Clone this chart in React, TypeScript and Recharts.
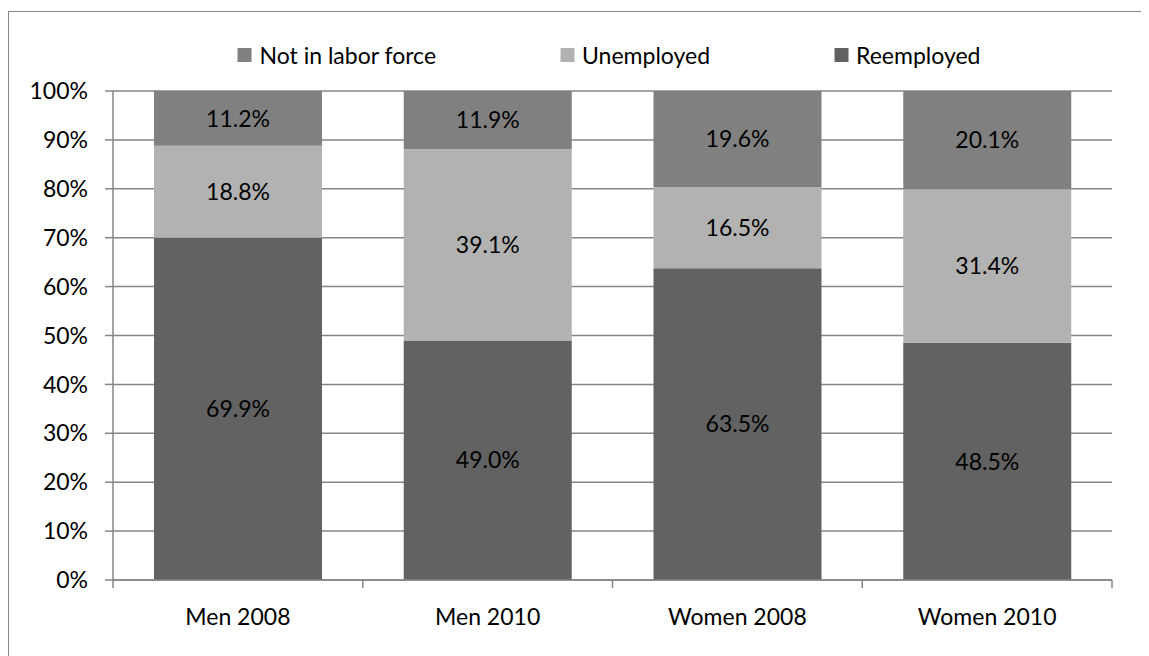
import React from 'react';
import { BarChart, Bar, XAxis, YAxis, CartesianGrid, LabelList } from 'recharts';

const categories = ['Men 2008', 'Men 2010', 'Women 2008', 'Women 2010'];
const reemployed = [69.9, 49.0, 63.5, 48.5];
const unemployed = [18.8, 39.1, 16.5, 31.4];
const notInLaborForce = [11.2, 11.9, 19.6, 20.1];
const yTicks = [0, 0.1, 0.2, 0.3, 0.4, 0.5, 0.6, 0.7, 0.8, 0.9, 1];

const GRID = '#868686';
const FONT = 'Lato, "Open Sans", sans-serif';
const FS = 23;

const legendItems = [
  { name: 'Not in labor force', color: '#808080' },
  { name: 'Unemployed', color: '#b2b2b2' },
  { name: 'Reemployed', color: '#626262' },
];

const data = categories.map((name, i) => ({
  name,
  reemployed: reemployed[i],
  unemployed: unemployed[i],
  notInLaborForce: notInLaborForce[i],
}));

const fmt = (v: any) => `${Number(v).toFixed(1)}%`;
const labelStyle = { fill: '#000', fontSize: FS, fontFamily: FONT };

// category label plus Excel-style tick marks on the category boundaries
const CategoryTick = (props: any) => {
  const { x, y, payload, index, width } = props;
  const band = width / categories.length;
  const left = x - band / 2;
  const right = x + band / 2;
  return (
    <g>
      <line x1={left} x2={left} y1={y} y2={y + 8} stroke={GRID} strokeWidth={1.5} />
      {index === categories.length - 1 && (
        <line x1={right} x2={right} y1={y} y2={y + 8} stroke={GRID} strokeWidth={1.5} />
      )}
      <text x={x} y={y + 29} dy="0.71em" textAnchor="middle" fill="#000" fontSize={FS} fontFamily={FONT}>
        {payload.value}
      </text>
    </g>
  );
};

export default function App() {
  return (
    <div style={{ paddingTop: 3 }}>
      <div
        style={{
          position: 'relative',
          width: 1160,
          height: 660,
          border: `1px solid ${GRID}`,
          fontFamily: FONT,
        }}
      >
        <div
          style={{
            position: 'absolute',
            top: 31,
            left: 600,
            transform: 'translateX(-50%)',
            display: 'flex',
            gap: 124,
            whiteSpace: 'nowrap',
            fontSize: FS,
            lineHeight: '24px',
            color: '#000',
          }}
        >
          {legendItems.map((it) => (
            <div key={it.name} style={{ display: 'flex', alignItems: 'center' }}>
              <span style={{ width: 14, height: 14, background: it.color, marginRight: 8, display: 'inline-block' }} />
              <span>{it.name}</span>
            </div>
          ))}
        </div>
        <BarChart
          width={1140}
          height={640}
          data={data}
          stackOffset="expand"
          margin={{ top: 79, right: 37, left: 0, bottom: 32 }}
        >
          <CartesianGrid vertical={false} stroke={GRID} strokeWidth={1.5} />
          <XAxis
            dataKey="name"
            stroke={GRID}
            strokeWidth={1.5}
            tickLine={false}
            tickSize={0}
            tickMargin={0}
            height={40}
            interval={0}
            tick={<CategoryTick />}
          />
          <YAxis
            width={104}
            domain={[0, 1]}
            ticks={yTicks}
            tickFormatter={(v: number) => `${Math.round(v * 100)}%`}
            tickSize={8}
            tickMargin={17}
            stroke={GRID}
            strokeWidth={1.5}
            tick={{ fill: '#000', fontSize: FS, fontFamily: FONT }}
          />
          <Bar dataKey="reemployed" stackId="a" barSize={168} fill={legendItems[2].color} isAnimationActive={false}>
            <LabelList dataKey="reemployed" position="center" formatter={fmt} style={labelStyle} />
          </Bar>
          <Bar dataKey="unemployed" stackId="a" barSize={168} fill={legendItems[1].color} isAnimationActive={false}>
            <LabelList dataKey="unemployed" position="center" formatter={fmt} style={labelStyle} />
          </Bar>
          <Bar dataKey="notInLaborForce" stackId="a" barSize={168} fill={legendItems[0].color} isAnimationActive={false}>
            <LabelList dataKey="notInLaborForce" position="center" formatter={fmt} style={labelStyle} />
          </Bar>
        </BarChart>
      </div>
    </div>
  );
}
